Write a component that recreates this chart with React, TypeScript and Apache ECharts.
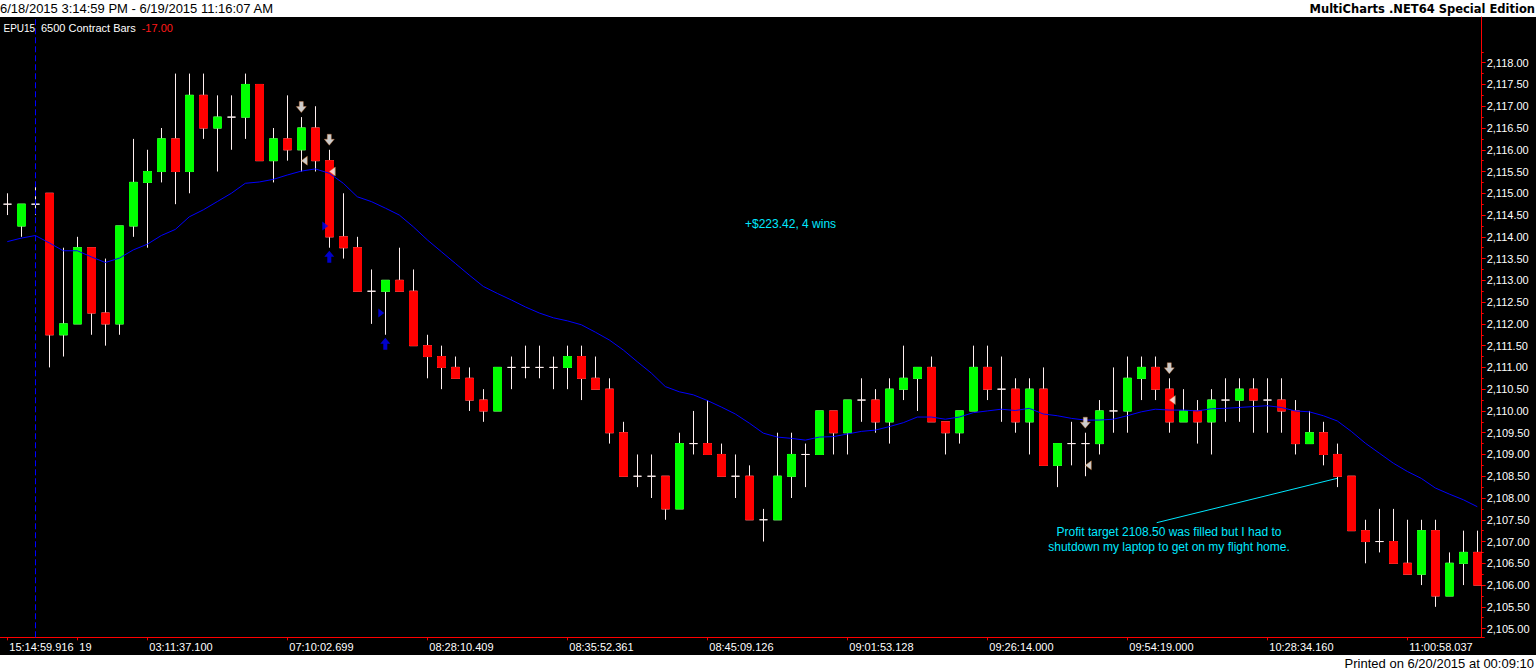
import React, { useEffect, useRef } from "react";
import * as echarts from "echarts";

const barIndex = Array.from({ length: 106 }, (_, i) => String(i));

const opens = [
  2114.75, 2114.25, 2114.75, 2115.0, 2111.75, 2112.0, 2113.75, 2112.25, 2112.0, 2114.25,
  2115.25, 2115.5, 2116.25, 2115.5, 2117.25, 2116.5, 2116.75, 2116.75, 2117.5, 2115.75,
  2116.25, 2116.0, 2116.5, 2115.75, 2114.0, 2113.75, 2112.75, 2112.75, 2113.0, 2112.75,
  2111.5, 2111.25, 2111.0, 2110.75, 2110.25, 2110.0, 2111.0, 2111.0, 2111.0, 2111.0,
  2111.0, 2111.25, 2110.75, 2110.5, 2109.5, 2108.5, 2108.5, 2108.5, 2107.75, 2109.25,
  2109.25, 2109.0, 2108.5, 2108.5, 2107.5, 2107.5, 2108.5, 2109.0, 2109.0, 2110.0,
  2109.5, 2110.25, 2110.25, 2109.75, 2110.5, 2110.75, 2111.0, 2109.75, 2109.5, 2110.0,
  2111.0, 2110.5, 2110.5, 2109.75, 2110.5, 2108.75, 2109.25, 2109.25, 2109.25, 2110.0,
  2110.0, 2110.75, 2111.0, 2110.5, 2109.75, 2110.0, 2109.75, 2110.25, 2110.25, 2110.5,
  2110.25, 2110.25, 2110.0, 2109.25, 2109.5, 2109.0, 2108.5, 2107.25, 2107.0, 2107.0,
  2106.5, 2106.25, 2107.25, 2105.75, 2106.5, 2106.75,
];

const closes = [
  2114.75, 2114.75, 2114.75, 2111.75, 2112.0, 2113.75, 2112.25, 2112.0, 2114.25, 2115.25,
  2115.5, 2116.25, 2115.5, 2117.25, 2116.5, 2116.75, 2116.75, 2117.5, 2115.75, 2116.25,
  2116.0, 2116.5, 2115.75, 2114.0, 2113.75, 2112.75, 2112.75, 2113.0, 2112.75, 2111.5,
  2111.25, 2111.0, 2110.75, 2110.25, 2110.0, 2111.0, 2111.0, 2111.0, 2111.0, 2111.0,
  2111.25, 2110.75, 2110.5, 2109.5, 2108.5, 2108.5, 2108.5, 2107.75, 2109.25, 2109.25,
  2109.0, 2108.5, 2108.5, 2107.5, 2107.5, 2108.5, 2109.0, 2109.0, 2110.0, 2109.5,
  2110.25, 2110.25, 2109.75, 2110.5, 2110.75, 2111.0, 2109.75, 2109.5, 2110.0, 2111.0,
  2110.5, 2110.5, 2109.75, 2110.5, 2108.75, 2109.25, 2109.25, 2109.25, 2110.0, 2110.0,
  2110.75, 2111.0, 2110.5, 2109.75, 2110.0, 2109.75, 2110.25, 2110.25, 2110.5, 2110.25,
  2110.25, 2110.0, 2109.25, 2109.5, 2109.0, 2108.5, 2107.25, 2107.0, 2107.0, 2106.5,
  2106.25, 2107.25, 2105.75, 2106.5, 2106.75, 2106.0,
];

const lows = [
  2114.5, 2114.0, 2114.5, 2111.0, 2111.25, 2112.0, 2111.75, 2111.5, 2111.75, 2114.0,
  2113.75, 2115.25, 2114.75, 2115.0, 2116.25, 2115.5, 2116.0, 2116.25, 2115.75, 2115.25,
  2115.75, 2115.5, 2115.5, 2113.75, 2113.5, 2112.75, 2112.0, 2111.75, 2112.75, 2111.5,
  2110.75, 2110.5, 2110.75, 2110.0, 2109.75, 2110.0, 2110.5, 2110.75, 2110.75, 2110.5,
  2110.5, 2110.25, 2110.5, 2109.25, 2108.5, 2108.25, 2108.0, 2107.5, 2107.75, 2109.0,
  2109.0, 2108.5, 2108.0, 2107.5, 2107.0, 2107.5, 2108.0, 2108.25, 2109.0, 2109.0,
  2109.0, 2109.75, 2109.5, 2109.25, 2110.25, 2110.0, 2109.75, 2109.0, 2109.25, 2110.0,
  2110.25, 2109.75, 2109.5, 2109.0, 2108.75, 2108.25, 2108.75, 2108.5, 2109.0, 2109.5,
  2109.5, 2110.25, 2110.25, 2109.5, 2109.75, 2109.25, 2109.0, 2109.75, 2109.75, 2109.5,
  2109.5, 2109.5, 2109.0, 2109.25, 2108.75, 2108.25, 2107.25, 2106.5, 2106.75, 2106.5,
  2106.25, 2106.0, 2105.5, 2105.75, 2106.0, 2106.0,
];

const highs = [
  2115.0, 2114.75, 2115.25, 2115.0, 2113.75, 2114.0, 2113.75, 2113.5, 2114.25, 2116.25,
  2116.0, 2116.5, 2117.75, 2117.75, 2117.75, 2117.25, 2117.25, 2117.75, 2117.5, 2116.5,
  2117.25, 2116.75, 2117.0, 2116.0, 2115.0, 2114.0, 2113.25, 2113.0, 2113.75, 2113.25,
  2111.75, 2111.5, 2111.25, 2111.0, 2110.5, 2111.0, 2111.25, 2111.5, 2111.5, 2111.25,
  2111.5, 2111.5, 2111.25, 2110.75, 2109.75, 2109.0, 2109.0, 2108.5, 2109.5, 2110.0,
  2110.25, 2109.25, 2109.0, 2108.75, 2107.75, 2109.5, 2109.5, 2109.25, 2110.0, 2110.0,
  2110.25, 2110.75, 2110.5, 2110.75, 2111.5, 2111.0, 2111.25, 2109.75, 2110.0, 2111.5,
  2111.5, 2111.25, 2110.75, 2110.75, 2111.0, 2109.25, 2109.75, 2109.5, 2110.25, 2111.0,
  2111.25, 2111.25, 2111.25, 2110.75, 2110.5, 2110.25, 2110.5, 2110.75, 2110.75, 2110.75,
  2110.75, 2110.75, 2110.25, 2110.0, 2109.75, 2109.25, 2108.5, 2107.5, 2107.75, 2107.75,
  2107.5, 2107.5, 2107.5, 2106.75, 2107.25, 2107.25,
];

const maValues = [
  2113.89, 2113.97, 2114.03, 2113.86, 2113.68, 2113.68, 2113.54, 2113.41, 2113.51, 2113.7,
  2113.83, 2114.03, 2114.17, 2114.46, 2114.62, 2114.81, 2115.0, 2115.23, 2115.26, 2115.32,
  2115.42, 2115.51, 2115.56, 2115.46, 2115.23, 2114.92, 2114.81, 2114.66, 2114.5, 2114.23,
  2113.93, 2113.66, 2113.39, 2113.12, 2112.86, 2112.7, 2112.55, 2112.39, 2112.25, 2112.14,
  2112.07, 2111.98, 2111.81, 2111.63, 2111.4, 2111.13, 2110.87, 2110.56, 2110.44, 2110.37,
  2110.24, 2110.09, 2109.93, 2109.72, 2109.49, 2109.4, 2109.37, 2109.33, 2109.4, 2109.41,
  2109.47, 2109.53, 2109.56, 2109.64, 2109.73, 2109.86, 2109.86, 2109.81, 2109.86, 2109.96,
  2110.0, 2110.04, 2110.01, 2110.06, 2109.93, 2109.89, 2109.83, 2109.79, 2109.79, 2109.81,
  2109.89, 2109.98, 2110.04, 2110.02, 2110.02, 2110.0, 2110.05, 2110.06, 2110.08, 2110.1,
  2110.12, 2110.08, 2110.0, 2109.98, 2109.89, 2109.77, 2109.53, 2109.26, 2109.03, 2108.8,
  2108.61, 2108.45, 2108.23, 2108.09, 2107.96, 2107.8,
];

const xTickBars = [0, 5, 10, 20, 30, 40, 50, 60, 70, 80, 90, 100];
const xTickTexts = [
  "15:14:59.916", "19", "03:11:37.100", "07:10:02.699", "08:28:10.409", "08:35:52.361",
  "08:45:09.126", "09:01:53.128", "09:26:14.000", "09:54:19.000", "10:28:34.160", "11:00:58.037",
];

const yTickValues = [
  2105.0, 2105.5, 2106.0, 2106.5, 2107.0, 2107.5, 2108.0, 2108.5, 2109.0, 2109.5,
  2110.0, 2110.5, 2111.0, 2111.5, 2112.0, 2112.5, 2113.0, 2113.5, 2114.0, 2114.5,
  2115.0, 2115.5, 2116.0, 2116.5, 2117.0, 2117.5, 2118.0,
];
const yMinorTickValues = yTickValues.map((v) => v + 0.25);

const shortEntryBars = [21, 23, 77, 83];
const shortEntryPrices = [2115.75, 2115.5, 2108.75, 2110.25];
const coverBars = [23, 27];
const coverPrices = [2114.25, 2112.25];
const sessionBreakBar = "2";

const FONT = "'Liberation Sans', Arial, sans-serif";

export default function App() {
  const ref = useRef<HTMLDivElement>(null);

  useEffect(() => {
    if (!ref.current) return;
    const chart = echarts.init(ref.current, null, { renderer: "svg" });

    const wickData = barIndex.map((_, i) => [opens[i], closes[i], lows[i], highs[i]]);
    const bodyData = barIndex.map((_, i) =>
      opens[i] === closes[i]
        ? "-"
        : [opens[i], closes[i], Math.min(opens[i], closes[i]), Math.max(opens[i], closes[i])]
    );

    const fmtPrice = (v: number) =>
      v.toLocaleString("en-US", { minimumFractionDigits: 2, maximumFractionDigits: 2 });

    const WICK = "#fff0f0";
    const CYAN = "#00e8ff";

    chart.setOption({
      animation: false,
      backgroundColor: "#ffffff",
      grid: { left: 0.3, top: 17, width: 1484, height: 620.3, containLabel: false },
      xAxis: {
        type: "category",
        data: barIndex,
        boundaryGap: true,
        axisLine: { show: true, lineStyle: { color: "#ff0000", width: 1 } },
        axisTick: {
          show: true,
          alignWithLabel: true,
          length: 3,
          interval: (idx: number) => xTickBars.includes(idx),
          lineStyle: { color: "#ff0000" },
        },
        axisLabel: {
          show: true,
          interval: (idx: number) => xTickBars.includes(idx),
          formatter: (_v: string, idx: number) => {
            const k = xTickBars.indexOf(idx);
            return k >= 0 ? xTickTexts[k] : "";
          },
          color: "#ffffff",
          fontFamily: FONT,
          fontSize: 11,
          align: "left",
          padding: [0, 0, 0, 2],
          margin: 4,
        },
        splitLine: { show: false },
      },
      yAxis: [
        {
          type: "value",
          position: "right",
          min: 2104.8,
          max: 2119.05,
          offset: -2.6,
          scale: true,
          axisLine: { show: true, lineStyle: { color: "#ff0000", width: 1 } },
          axisTick: {
            show: true,
            length: 4,
            customValues: yTickValues,
            lineStyle: { color: "#ff0000" },
          },
          axisLabel: {
            show: true,
            customValues: yTickValues,
            formatter: (v: number) => fmtPrice(v),
            color: "#ffffff",
            fontFamily: FONT,
            fontSize: 11,
            margin: 5,
          },
          splitLine: { show: false },
        },
        {
          type: "value",
          position: "right",
          min: 2104.8,
          max: 2119.05,
          offset: -2.6,
          scale: true,
          axisLine: { show: false },
          axisTick: {
            show: true,
            length: 2,
            customValues: yMinorTickValues,
            lineStyle: { color: "#ff0000" },
          },
          axisLabel: { show: false },
          splitLine: { show: false },
        },
      ],
      series: [
        {
          name: "wicks",
          type: "candlestick",
          data: wickData,
          barWidth: 8,
          itemStyle: {
            color: WICK,
            color0: WICK,
            borderColor: WICK,
            borderColor0: WICK,
            borderColorDoji: WICK,
            borderWidth: 1,
          },
          silent: true,
        },
        {
          name: "bodies",
          type: "candlestick",
          data: bodyData,
          barWidth: 8,
          itemStyle: {
            color: "#00ff00",
            color0: "#ff0000",
            borderColor: "#00ff00",
            borderColor0: "#ff0000",
            borderWidth: 1,
          },
          silent: true,
        },
        {
          name: "MA",
          type: "line",
          data: maValues,
          showSymbol: false,
          symbol: "none",
          lineStyle: { color: "#0000ff", width: 1 },
          silent: true,
          markLine: {
            silent: true,
            symbol: ["none", "none"],
            label: { show: false },
            lineStyle: { color: "#0000ff", width: 1, type: [6, 3] },
            data: [{ xAxis: sessionBreakBar }],
          },
        },
        {
          name: "shortEntryArrows",
          type: "scatter",
          data: shortEntryBars.map((b) => [b, highs[b]]),
          symbol: "path://M3,0 L7,0 L7,5 L10,5 L5,11 L0,5 L3,5 Z",
          symbolSize: [10, 11],
          symbolOffset: [0, -10],
          itemStyle: { color: "#ffffff", borderColor: "#d98040", borderWidth: 0.5 },
          silent: true,
          z: 5,
        },
        {
          name: "shortEntryPrice",
          type: "scatter",
          data: shortEntryBars.map((b, i) => [b, shortEntryPrices[i]]),
          symbol: "path://M0,4 L5,0 L5,8 Z",
          symbolSize: [6, 9],
          symbolOffset: [3, 0],
          itemStyle: { color: "#ffffff", borderColor: "#e08030", borderWidth: 0.5 },
          silent: true,
          z: 5,
        },
        {
          name: "coverPrice",
          type: "scatter",
          data: coverBars.map((b, i) => [b, coverPrices[i]]),
          symbol: "path://M0,0 L5,4 L0,8 Z",
          symbolSize: [6, 9],
          symbolOffset: [-4, 0],
          itemStyle: { color: "#0000ff" },
          silent: true,
          z: 5,
        },
        {
          name: "coverArrows",
          type: "scatter",
          data: coverBars.map((b) => [b, lows[b]]),
          symbol: "path://M5,0 L10,6 L7,6 L7,12 L3,12 L3,6 L0,6 Z",
          symbolSize: [10, 12],
          symbolOffset: [0, 9],
          itemStyle: { color: "#0000ff" },
          silent: true,
          z: 5,
        },
      ],
      graphic: [
        {
          type: "rect",
          z: -100,
          silent: true,
          shape: { x: 0, y: 17, width: 1536, height: 638 },
          style: { fill: "#000000" },
        },
        {
          type: "text",
          x: 0,
          y: 8.5,
          style: {
            text: "6/18/2015 3:14:59 PM - 6/19/2015 11:16:07 AM",
            font: `13px ${FONT}`,
            fill: "#000000",
            align: "left",
            verticalAlign: "middle",
          },
        },
        {
          type: "text",
          x: 1535,
          y: 8.5,
          style: {
            text: "MultiCharts .NET64 Special Edition",
            font: "bold 11.5px 'DejaVu Sans', Verdana, sans-serif",
            fill: "#000000",
            align: "right",
            verticalAlign: "middle",
          },
        },
        {
          type: "text",
          x: 3.5,
          y: 28.3,
          style: { text: "EPU15", font: `10px ${FONT}`, fill: "#ffffff", verticalAlign: "middle" },
        },
        {
          type: "text",
          x: 41,
          y: 28.3,
          style: {
            text: "6500 Contract Bars",
            font: `11px ${FONT}`,
            fill: "#ffffff",
            verticalAlign: "middle",
          },
        },
        {
          type: "text",
          x: 141.7,
          y: 28.3,
          style: { text: "-17.00", font: `11px ${FONT}`, fill: "#ff1a1a", verticalAlign: "middle" },
        },
        {
          type: "text",
          x: 745,
          y: 224,
          style: {
            text: "+$223.42, 4 wins",
            font: `12px ${FONT}`,
            fill: CYAN,
            verticalAlign: "middle",
          },
        },
        {
          type: "line",
          silent: true,
          shape: { x1: 1156.7, y1: 522.7, x2: 1337.3, y2: 478.3 },
          style: { stroke: CYAN, lineWidth: 1 },
        },
        {
          type: "text",
          x: 1169,
          y: 531.7,
          style: {
            text: "Profit target 2108.50 was filled but I had to",
            font: `12px ${FONT}`,
            fill: CYAN,
            align: "center",
            verticalAlign: "middle",
          },
        },
        {
          type: "text",
          x: 1169,
          y: 546.7,
          style: {
            text: "shutdown my laptop to get on my flight home.",
            font: `12px ${FONT}`,
            fill: CYAN,
            align: "center",
            verticalAlign: "middle",
          },
        },
        {
          type: "text",
          x: 1534,
          y: 663,
          style: {
            text: "Printed on 6/20/2015 at 00:09:10",
            font: `13px ${FONT}`,
            fill: "#000000",
            align: "right",
            verticalAlign: "middle",
          },
        },
      ],
    });

    return () => chart.dispose();
  }, []);

  return (
    <div
      ref={ref}
      style={{ position: "absolute", left: 0, top: 0, width: 1536, height: 670 }}
    />
  );
}
